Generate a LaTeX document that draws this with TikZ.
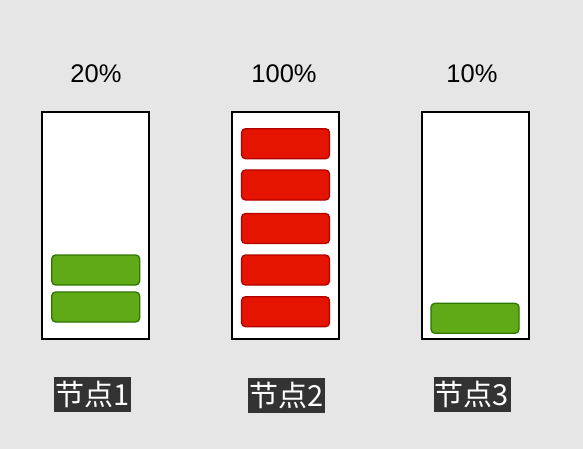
\documentclass[tikz,border=0pt]{standalone}
\usepackage{fontspec}
\setmainfont{Liberation Sans}
\newfontfamily\cjk{Noto Sans CJK SC}
\definecolor{bg}{HTML}{E6E6E6}
\definecolor{gfill}{HTML}{60A917}
\definecolor{gline}{HTML}{2D7600}
\definecolor{rfill}{HTML}{E51400}
\definecolor{rline}{HTML}{B20000}
\definecolor{lab}{HTML}{333333}
\begin{document}
\begin{tikzpicture}[x=1pt,y=-1pt,
  nodebox/.style={draw=black,fill=white,line width=1.8pt,minimum width=107pt,minimum height=227pt,inner sep=0pt},
  bar/.style={rounded corners=4pt,line width=1.3pt,minimum width=88pt,minimum height=30pt,inner sep=0pt},
  gbar/.style={bar,draw=gline,fill=gfill},
  rbar/.style={bar,draw=rline,fill=rfill},
  pct/.style={font=\fontsize{25.5}{30}\selectfont,inner sep=0pt},
  namelab/.style={fill=lab,text=white,font=\cjk\fontsize{29}{32}\selectfont,minimum width=77pt,minimum height=35pt,inner sep=0pt}]
\fill[bg] (0,0) rectangle (583,449);
\useasboundingbox (0,0) rectangle (583,449);
\node[nodebox] (n1) at (95.5,225.5) {};
\node[nodebox] (n2) at (285.5,225.5) {};
\node[nodebox] (n3) at (475.5,225.5) {};
\node[gbar] (g1a) at (95.7,270) {};
\node[gbar] (g1b) at (95.7,307) {};
\node[rbar] (r1) at (285.5,143.7) {};
\node[rbar] (r2) at (285.5,185) {};
\node[rbar] (r3) at (285.5,228.5) {};
\node[rbar] (r4) at (285.5,270) {};
\node[rbar] (r5) at (285.5,311.7) {};
\node[gbar] (g3a) at (475,318.3) {};
\node[pct] (p1) at (96,73.5) {20\%};
\node[pct] (p2) at (284,73.5) {100\%};
\node[pct] (p3) at (472,73.5) {10\%};
\node[namelab] (l1) at (92.7,394.5) {节点1};
\node[namelab] (l2) at (286.7,395) {节点2};
\node[namelab] (l3) at (472,394.7) {节点3};
\end{tikzpicture}
\end{document}
